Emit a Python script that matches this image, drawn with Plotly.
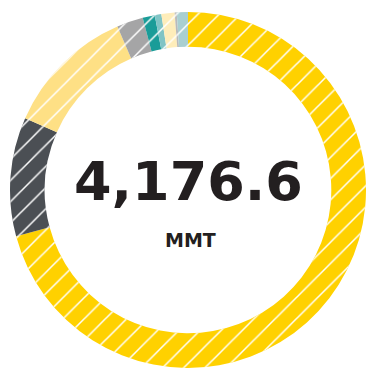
import plotly.graph_objects as go

# Slice order runs clockwise from 12 o'clock
categories = ["A", "B", "C", "D", "E", "F", "G", "H", "I"]
values_mmt = [2957.6, 451.0, 497.0, 100.0, 46.0, 25.0, 50.0, 8.0, 42.0]
colors = ["#FFD100", "#4B4F54", "#FEE085", "#A5A5A6", "#1A9C98",
          "#80C4C5", "#FEEDBA", "#B9B9BA", "#A9CFD1"]
unit = "MMT"

total = sum(values_mmt)
ring_domain = dict(x=[10 / 366, 1], y=[1 / 369, 357 / 369])
common = dict(
    labels=categories, values=values_mmt, sort=False,
    direction="clockwise", rotation=0, hole=0.805,
    textinfo="none", showlegend=False, domain=ring_domain,
)

fig = go.Figure()
# solid coloured ring
fig.add_trace(go.Pie(
    marker=dict(colors=colors, line=dict(width=0)),
    hoverinfo="label+value", **common,
))
# thin white diagonal hatching laid over the same ring
fig.add_trace(go.Pie(
    marker=dict(
        colors=["rgba(0,0,0,0)"] * len(categories),
        line=dict(width=0),
        pattern=dict(shape="/", fgcolor="#FFFFFF", bgcolor="rgba(0,0,0,0)",
                     fgopacity=1, size=15, solidity=0.1),
    ),
    hoverinfo="skip", **common,
))

fig.add_annotation(
    x=188 / 366, y=(369 - 181) / 369, xref="paper", yref="paper",
    text=f"{total:,.1f}", showarrow=False,
    font=dict(family="DejaVu Sans", size=54, color="#231F20", weight="bold"),
    xanchor="center", yanchor="middle",
)
fig.add_annotation(
    x=190 / 366, y=(369 - 240) / 369, xref="paper", yref="paper",
    text=unit, showarrow=False,
    font=dict(family="DejaVu Sans", size=19, color="#231F20", weight="bold"),
    xanchor="center", yanchor="middle",
)

fig.update_layout(
    width=366, height=369,
    margin=dict(l=0, r=0, t=0, b=0),
    paper_bgcolor="#FFFFFF", plot_bgcolor="#FFFFFF",
)

fig.write_html("out.html")
